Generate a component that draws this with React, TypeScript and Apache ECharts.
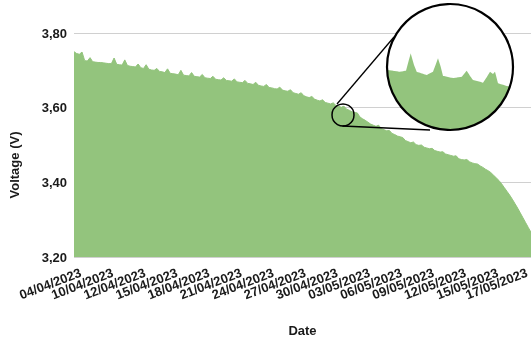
import React, { useEffect, useRef } from "react";
import * as echarts from "echarts";

// Tick labels on the date axis and the sample index each one sits at
const tickLabels = [
  "04/04/2023", "10/04/2023", "12/04/2023", "15/04/2023", "18/04/2023",
  "21/04/2023", "24/04/2023", "27/04/2023", "30/04/2023", "03/05/2023",
  "06/05/2023", "09/05/2023", "12/05/2023", "15/05/2023", "17/05/2023",
];
const tickIndex = [2.5, 14.5, 26.5, 38.5, 50.5, 62.5, 74.5, 86.5, 98.5, 110.5, 122.5, 134.5, 146.5, 158.5, 169.5];

// Voltage samples (V)
const voltage = [
  3.750, 3.745, 3.743, 3.749, 3.726, 3.725, 3.734, 3.723, 3.722, 3.721,
  3.721, 3.720, 3.719, 3.718, 3.718, 3.733, 3.716, 3.715, 3.714, 3.728,
  3.713, 3.711, 3.710, 3.709, 3.717, 3.707, 3.705, 3.715, 3.703, 3.701,
  3.700, 3.705, 3.697, 3.696, 3.694, 3.704, 3.692, 3.691, 3.690, 3.688,
  3.700, 3.687, 3.686, 3.685, 3.694, 3.684, 3.683, 3.682, 3.689, 3.680,
  3.679, 3.678, 3.684, 3.676, 3.675, 3.674, 3.680, 3.673, 3.672, 3.671,
  3.677, 3.669, 3.668, 3.667, 3.673, 3.665, 3.664, 3.662, 3.668, 3.660,
  3.658, 3.657, 3.662, 3.654, 3.653, 3.651, 3.650, 3.655, 3.647, 3.645,
  3.644, 3.648, 3.640, 3.638, 3.636, 3.640, 3.632, 3.629, 3.627, 3.630,
  3.623, 3.620, 3.618, 3.621, 3.614, 3.612, 3.610, 3.613, 3.606, 3.604,
  3.601, 3.604, 3.596, 3.593, 3.589, 3.587, 3.586, 3.575, 3.570, 3.566,
  3.561, 3.556, 3.553, 3.550, 3.553, 3.544, 3.541, 3.538, 3.539, 3.531,
  3.528, 3.524, 3.522, 3.520, 3.512, 3.509, 3.506, 3.508, 3.501, 3.499,
  3.500, 3.494, 3.492, 3.490, 3.491, 3.485, 3.483, 3.481, 3.482, 3.476,
  3.474, 3.472, 3.470, 3.471, 3.463, 3.461, 3.460, 3.461, 3.455, 3.452,
  3.450, 3.449, 3.444, 3.440, 3.435, 3.431, 3.426, 3.419, 3.412, 3.405,
  3.396, 3.386, 3.376, 3.366, 3.355, 3.343, 3.331, 3.318, 3.305, 3.292,
  3.279, 3.266,
];

// Magnified inset: finer samples around the zoomed spot
const insetPos = [0, 1, 13, 19, 23.7, 27, 29.7, 39.7, 46, 51, 53.7, 56, 66, 74.7, 79.7, 83, 86, 96, 99.7, 103, 106, 108, 111, 119.7, 124.7, 126];
const insetVolt = [
  3.5796, 3.5796, 3.5788, 3.5793, 3.5873, 3.5819, 3.5788, 3.5773, 3.5788, 3.5850,
  3.5811, 3.5769, 3.5759, 3.5765, 3.5793, 3.5769, 3.5750, 3.5738, 3.5763, 3.5788,
  3.5778, 3.5788, 3.5735, 3.5723, 3.5717, 3.5713,
];

const GREEN = "#93c47d";
const FONT = "'Liberation Sans', Arial, sans-serif";

// Date labels are split over two stacked axes (alternate ticks) so none gets auto-hidden
const labelAxis = (parity: number, extra: object) => {
  const vals = tickIndex.filter((_, k) => k % 2 === parity);
  return {
    type: "value",
    gridIndex: 0,
    position: "bottom",
    offset: 0,
    min: 0,
    max: voltage.length - 1,
    axisLine: { show: false },
    axisTick: { show: false },
    splitLine: { show: false },
    axisLabel: {
      customValues: vals,
      showMinLabel: true,
      showMaxLabel: true,
      hideOverlap: false,
      formatter: (v: number) => {
        const k = tickIndex.indexOf(v);
        return k >= 0 ? tickLabels[k] : "";
      },
      rotate: 21,
      margin: 15,
      fontFamily: FONT,
      fontWeight: "bold",
      fontSize: 13,
      color: "#1a1a1a",
    },
    ...extra,
  };
};

export default function App() {
  const ref = useRef<HTMLDivElement>(null);
  useEffect(() => {
    if (!ref.current) return;
    const chart = echarts.init(ref.current, undefined, { renderer: "svg" });
    chart.setOption({
      animation: false,
      grid: [
        { left: 74, right: 0, top: 33, bottom: 83, containLabel: false, outerBoundsMode: "none" },
        { left: 387, top: 4, width: 126, height: 126, containLabel: false, outerBoundsMode: "none" },
      ],
      xAxis: [
        labelAxis(0, {
          name: "Date",
          nameLocation: "middle",
          nameGap: 66,
          nameTextStyle: { fontFamily: FONT, fontWeight: "bold", fontSize: 13, lineHeight: 14, color: "#1a1a1a" },
        }),
        labelAxis(1, {}),
        { type: "value", gridIndex: 1, min: 0, max: 126, show: false },
      ],
      yAxis: [
        {
          type: "value",
          min: 3.2,
          max: 3.8,
          interval: 0.2,
          axisLine: { show: false },
          axisTick: { show: false },
          splitLine: { lineStyle: { color: "#d0d0d0", width: 1 } },
          axisLabel: {
            formatter: (v: number) => v.toFixed(2).replace(".", ","),
            margin: 7,
            fontFamily: FONT,
            fontWeight: "bold",
            fontSize: 13,
            color: "#1a1a1a",
          },
        },
        { type: "value", gridIndex: 1, min: 3.552, max: 3.61, show: false },
      ],
      series: [
        {
          type: "line",
          xAxisIndex: 0,
          yAxisIndex: 0,
          data: voltage.map((v, i) => [i, v]),
          symbol: "none",
          lineStyle: { width: 1, color: GREEN },
          areaStyle: { color: GREEN, opacity: 1, origin: "start" },
          silent: true,
        },
        {
          type: "line",
          xAxisIndex: 2,
          yAxisIndex: 1,
          data: insetPos.map((p, i) => [p, insetVolt[i]]),
          symbol: "none",
          lineStyle: { opacity: 0 },
          silent: true,
        },
      ],
    });

    // Build the magnified view, clipped to the big circle
    const cx = 450, cy = 67, r = 63;
    const pts = insetPos.map((p, i) =>
      chart.convertToPixel({ xAxisIndex: 2, yAxisIndex: 1 }, [p, insetVolt[i]]) as number[]
    );
    const curveY = (x: number) => {
      if (x <= pts[0][0]) return pts[0][1];
      for (let k = 1; k < pts.length; k++) {
        if (x <= pts[k][0]) {
          const [x0, y0] = pts[k - 1];
          const [x1, y1] = pts[k];
          return y0 + ((y1 - y0) * (x - x0)) / (x1 - x0 || 1);
        }
      }
      return pts[pts.length - 1][1];
    };
    const xs: number[] = [];
    for (let x = cx - r; x <= cx + r; x += 1) xs.push(x);
    pts.forEach((p) => { if (p[0] > cx - r && p[0] < cx + r) xs.push(p[0]); });
    xs.sort((a, b) => a - b);
    const top: number[][] = [];
    const bot: number[][] = [];
    xs.forEach((x) => {
      const dx = x - cx;
      const h = Math.sqrt(Math.max(0, r * r - dx * dx));
      const yt = cy - h, yb = cy + h;
      const y = Math.max(curveY(x), yt);
      if (y < yb) { top.push([x, y]); bot.push([x, yb]); }
    });
    const poly = top.concat(bot.reverse());

    chart.setOption({
      graphic: [
        {
          type: "line", z: 100, silent: true,
          shape: { x1: 337, y1: 104, x2: 394, y2: 37 },
          style: { stroke: "#000", lineWidth: 1.3 },
        },
        {
          type: "line", z: 100, silent: true,
          shape: { x1: 342.5, y1: 126, x2: 430, y2: 130 },
          style: { stroke: "#000", lineWidth: 1.3 },
        },
        {
          type: "circle", z: 100, silent: true,
          shape: { cx: 343, cy: 115, r: 11 },
          style: { fill: "none", stroke: "#000", lineWidth: 1.5 },
        },
        {
          type: "circle", z: 101, silent: true,
          shape: { cx, cy, r },
          style: { fill: "#fff", stroke: "none" },
        },
        {
          type: "polygon", z: 102, silent: true,
          shape: { points: poly },
          style: { fill: GREEN },
        },
        {
          type: "circle", z: 103, silent: true,
          shape: { cx, cy, r },
          style: { fill: "none", stroke: "#000", lineWidth: 2.2 },
        },
        {
          type: "text", z: 104, silent: true,
          x: 14, y: 165, rotation: Math.PI / 2,
          style: {
            text: "Voltage (V)",
            align: "center",
            verticalAlign: "middle",
            font: `bold 13px ${FONT}`,
            fill: "#1a1a1a",
          },
        },
      ],
    });
    return () => chart.dispose();
  }, []);
  return <div ref={ref} style={{ position: "fixed", left: 0, top: 0, width: 531, height: 340 }} />;
}
